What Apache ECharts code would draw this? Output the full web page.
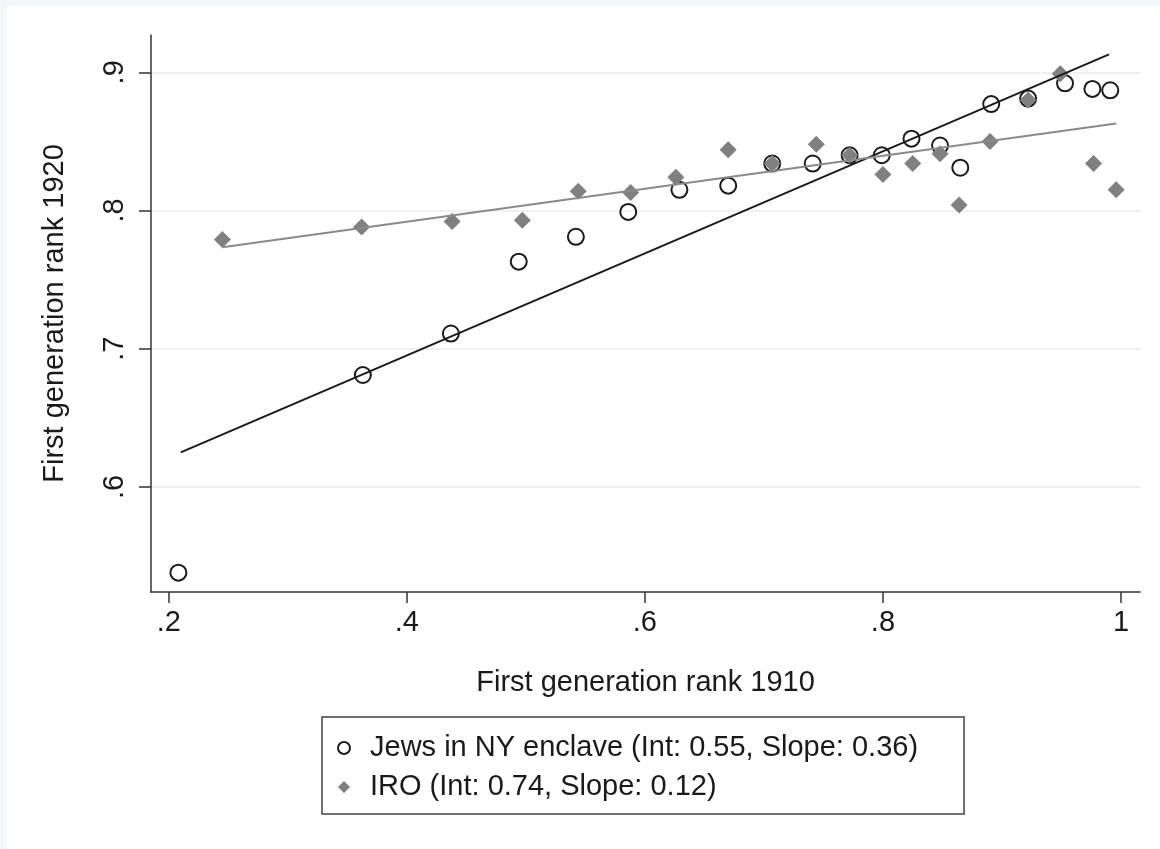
<!DOCTYPE html>
<html>
<head>
<meta charset="utf-8">
<script src="https://cdn.jsdelivr.net/npm/echarts@6/dist/echarts.min.js"></script>
<style>
  html, body { margin: 0; padding: 0; background: #fff; }
  #chart { width: 1160px; height: 849px; }
</style>
</head>
<body>
<div id="chart"></div>
<script>
// Jews in NY enclave: [rank 1910, rank 1920]
const jewsPoints = [
  [0.208, 0.538], [0.363, 0.681], [0.437, 0.711], [0.494, 0.763], [0.542, 0.781],
  [0.586, 0.799], [0.629, 0.815], [0.670, 0.818], [0.707, 0.834], [0.741, 0.834],
  [0.772, 0.840], [0.799, 0.840], [0.824, 0.852], [0.848, 0.847], [0.865, 0.831],
  [0.891, 0.877], [0.922, 0.881], [0.953, 0.892], [0.976, 0.888], [0.991, 0.887]
]
// IRO
const iroPoints = [
  [0.245, 0.779], [0.362, 0.788], [0.438, 0.792], [0.497, 0.793], [0.544, 0.814],
  [0.588, 0.813], [0.626, 0.824], [0.670, 0.844], [0.707, 0.834], [0.744, 0.848],
  [0.772, 0.840], [0.800, 0.826], [0.825, 0.834], [0.848, 0.841], [0.864, 0.804],
  [0.890, 0.850], [0.922, 0.880], [0.949, 0.899], [0.977, 0.834], [0.996, 0.815]
]
// fitted lines (endpoints)
const jewsFit = [[0.210, 0.625], [0.990, 0.913]]
const iroFit = [[0.245, 0.7735], [0.996, 0.863]]

const xTicks = [0.2, 0.4, 0.6, 0.8, 1]
const yTicks = [0.6, 0.7, 0.8, 0.9]
const legendNames = [
  'Jews in NY enclave (Int: 0.55, Slope: 0.36)',
  'IRO (Int: 0.74, Slope: 0.12)'
]

const font = '"Liberation Sans", Arial, Helvetica, sans-serif'
const fs = 29
const tickFmt = v => (Math.abs(v - 1) < 1e-9 ? '1' : String(+v.toFixed(2)).replace(/^0/, ''))

const chart = echarts.init(document.getElementById('chart'))

chart.setOption({
  backgroundColor: '#f3f6f8',
  animation: false,
  textStyle: { fontFamily: font },
  graphic: [{
    type: 'rect',
    shape: { x: 7, y: 6, width: 1160, height: 849 },
    style: { fill: '#ffffff' },
    z: -10,
    silent: true
  }],
  grid: { left: 151, right: 20, top: 35, bottom: 257 },
  xAxis: {
    type: 'value',
    min: 0.185,
    max: 1.016,
    name: 'First generation rank 1910',
    nameLocation: 'middle',
    nameGap: 76,
    nameTextStyle: { fontSize: fs, color: '#1a1a1a', fontFamily: font },
    axisLine: { lineStyle: { color: '#333', width: 1.5 } },
    axisTick: { show: true, length: 11, customValues: xTicks, lineStyle: { color: '#333', width: 1.5 } },
    axisLabel: { customValues: xTicks, formatter: tickFmt, fontSize: fs, color: '#1a1a1a', margin: 16, fontFamily: font },
    splitLine: { show: false }
  },
  yAxis: {
    type: 'value',
    min: 0.524,
    max: 0.927,
    name: 'First generation rank 1920',
    nameLocation: 'middle',
    nameGap: 82,
    nameTextStyle: { fontSize: fs, color: '#1a1a1a', fontFamily: font },
    axisLine: { show: true, lineStyle: { color: '#333', width: 1.5 } },
    axisTick: { show: true, length: 12, customValues: yTicks, lineStyle: { color: '#333', width: 1.5 } },
    axisLabel: { customValues: yTicks, formatter: tickFmt, fontSize: fs, color: '#1a1a1a', rotate: 90, margin: 22, fontFamily: font },
    splitLine: { show: true, lineStyle: { color: '#e6eef1', width: 1.5 } }
  },
  legend: {
    left: 322,
    top: 717,
    orient: 'vertical',
    data: [
      { name: legendNames[0], icon: 'circle', itemStyle: { color: '#fff', borderColor: '#1a1a1a', borderWidth: 2 } },
      { name: legendNames[1], icon: 'diamond', itemStyle: { color: '#808080', borderWidth: 0 } }
    ],
    itemWidth: 12,
    itemHeight: 12,
    itemGap: 7,
    padding: [15, 46, 11, 15],
    borderColor: '#444',
    borderWidth: 1.5,
    borderRadius: 0,
    backgroundColor: '#fff',
    textStyle: { fontSize: fs, color: '#1a1a1a', lineHeight: 32, fontFamily: font, padding: [0, 0, 0, 15] }
  },
  series: [
    {
      name: legendNames[0],
      type: 'scatter',
      data: jewsPoints,
      symbol: 'circle',
      symbolSize: 16,
      itemStyle: { color: 'rgba(255,255,255,0)', borderColor: '#1a1a1a', borderWidth: 2, opacity: 1 },
      z: 2
    },
    {
      name: legendNames[1],
      type: 'scatter',
      data: iroPoints,
      symbol: 'diamond',
      symbolSize: 17,
      itemStyle: { color: '#808080', opacity: 1 },
      z: 3
    },
    {
      name: 'jewsFit',
      type: 'line',
      data: jewsFit,
      showSymbol: false,
      symbol: 'none',
      lineStyle: { color: '#1a1a1a', width: 2 },
      z: 4
    },
    {
      name: 'iroFit',
      type: 'line',
      data: iroFit,
      showSymbol: false,
      symbol: 'none',
      lineStyle: { color: '#8a8a8a', width: 2 },
      z: 4
    }
  ]
})
</script>
</body>
</html>
